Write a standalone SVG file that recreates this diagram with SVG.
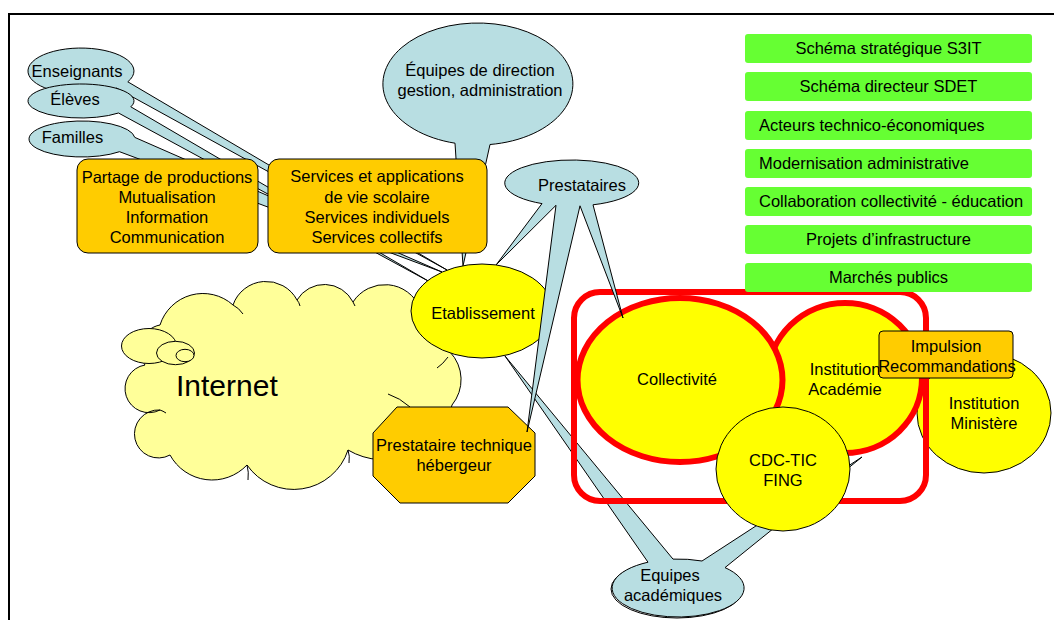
<svg xmlns="http://www.w3.org/2000/svg" width="1054" height="620" viewBox="0 0 1054 620">
<style>
text{font-family:"Liberation Sans",Arial,Helvetica,sans-serif;font-size:16.5px;fill:#000}
.m{text-anchor:middle}
.callout{fill:#B8DEE2;stroke:#000;stroke-width:1;stroke-linejoin:miter}
.yel{fill:#FFFF00;stroke:#000;stroke-width:1}
.org{fill:#FFCC00;stroke:#000;stroke-width:1}
.grn{fill:#66FF33}
.redl{fill:#FFFF00;stroke:#FF0000;stroke-width:6}
.cloud{fill:#FFFF99;stroke:#000;stroke-width:1}
.inner{fill:none;stroke:#000;stroke-width:1}
</style>
<rect width="1054" height="620" fill="#fff"/>
<g id="frame"><path d="M8 14 H1054 M9 14 V620" stroke="#000" stroke-width="2" fill="none"/></g>

<g id="internet">
<path class="cloud" d="M145 365 A25 25 0 0 1 160 325 A45 45 0 0 1 233 305 A35 35 0 0 1 297 300 A32 32 0 0 1 353 302 A38 38 0 0 1 420 308 A32 32 0 0 1 450 352 A40 40 0 0 1 452 405 A70 70 0 0 1 348 450 A57 57 0 0 1 247 465 A48 48 0 0 1 170 455 A24 24 0 1 1 160 410 A24 24 0 1 1 145 365 Z"/>
<path class="inner" d="M233 305 Q239 308 243 314 M297 300 Q299 302 300 306 M353 302 Q354 304 355 306 M448 357 Q443 364 437 368 M410 407 Q400 398 388 394 M348 450 Q350 456 349 463 M247 465 Q249 472 248 480 M160 410 Q163 411 166 413"/>
<ellipse class="cloud" cx="149" cy="346" rx="27.5" ry="17.5"/>
<ellipse class="cloud" cx="175.5" cy="353" rx="19" ry="11.7"/>
<ellipse class="cloud" cx="185" cy="355.5" rx="9" ry="6.2"/>
<text x="176" y="396" style="font-size:30px">Internet</text>
</g>

<g id="enseignants"><path class="callout" d="M127.8 81.8 A53 23 0 1 0 116.5 88.1 L447 270 Z"/><text class="m" x="77" y="76.5">Enseignants</text></g>
<g id="eleves"><path class="callout" d="M130.8 106.8 A53 17 0 1 0 118.5 113 L430 282 Z"/><text class="m" x="75" y="105">Élèves</text></g>
<g id="familles"><path class="callout" d="M134.8 137.4 A53 18 0 1 0 119.5 151.7 L442 272 Z"/><text class="m" x="72.5" y="142.5">Familles</text></g>

<g id="equipes-direction"><path class="callout" d="M463 266 L455 143.2 A95 61 0 1 1 490 144.5 Z"/><text class="m" x="480" y="76">Équipes de direction</text><text class="m" x="480" y="96">gestion, administration</text></g>

<g id="equipes-academiques">
<ellipse cx="677" cy="589" rx="66" ry="29" fill="none" stroke="#000"/>
<path class="callout" d="M648 562.2 L505 356 L673 559.1 A66 29 0 0 1 702 561 L862 457 L725 567.6 A66 29 0 1 1 648 562.2 Z"/>
<text class="m" x="670" y="581">Equipes</text><text class="m" x="673" y="601">académiques</text>
</g>

<g id="partage"><rect class="org" x="77" y="159" width="181" height="94" rx="11"/>
<text class="m" x="167" y="183">Partage de productions</text><text class="m" x="167" y="203">Mutualisation</text><text class="m" x="167" y="223">Information</text><text class="m" x="167" y="243">Communication</text></g>

<g id="services"><rect class="org" x="268" y="159" width="219" height="94" rx="11"/>
<text class="m" x="377" y="182">Services et applications</text><text class="m" x="377" y="203">de vie scolaire</text><text class="m" x="377" y="223">Services individuels</text><text class="m" x="377" y="243">Services collectifs</text></g>

<g id="etablissement"><ellipse class="yel" cx="482" cy="311" rx="71" ry="47"/><text class="m" x="483" y="318.5">Etablissement</text></g>

<g id="prestataire-technique"><polygon class="org" points="397,407 508,407 535,433 535,476 508,503 400,503 373,476 373,433"/>
<text class="m" x="454" y="451">Prestataire technique</text><text class="m" x="454" y="471">hébergeur</text></g>

<g id="ministere"><ellipse class="yel" cx="984" cy="413" rx="67" ry="60"/><text class="m" x="984" y="408.5">Institution</text><text class="m" x="984" y="428.5">Ministère</text></g>

<g id="academie"><ellipse class="redl" cx="845" cy="378" rx="77" ry="75"/><text class="m" x="845" y="374.5">Institution</text><text class="m" x="845" y="394.5">Académie</text></g>

<g id="collectivite"><ellipse class="redl" cx="680" cy="380" rx="102.5" ry="82"/><text class="m" x="677" y="384.5">Collectivité</text></g>

<g id="groupe-rouge"><rect x="574" y="292" width="352" height="209" rx="26" fill="none" stroke="#FF0000" stroke-width="6"/></g>

<g id="cdc-tic"><ellipse class="yel" cx="783" cy="469" rx="67" ry="62"/><text class="m" x="783" y="465.5">CDC-TIC</text><text class="m" x="783" y="485.5">FING</text></g>

<g id="prestataires"><path class="callout" d="M542 203.6 L496 265 L556 205.3 L527 432 L580 205.8 L623 318 L593 204.8 A67 23 0 1 0 542 203.6 Z"/><text class="m" x="582" y="190.5">Prestataires</text></g>

<g id="impulsion"><rect class="org" x="879" y="331" width="134" height="47" rx="4"/><text class="m" x="946" y="351.5">Impulsion</text><text class="m" x="947" y="371.5">Recommandations</text></g>

<g id="themes">
<rect class="grn" x="745" y="34" width="287" height="29" rx="3"/><text class="m" x="888.5" y="54">Schéma stratégique S3IT</text>
<rect class="grn" x="745" y="72" width="287" height="29" rx="3"/><text class="m" x="888.5" y="92">Schéma directeur SDET</text>
<rect class="grn" x="745" y="111" width="287" height="29" rx="3"/><text x="759" y="130.5">Acteurs technico-économiques</text>
<rect class="grn" x="745" y="149" width="287" height="29" rx="3"/><text x="759" y="168.5">Modernisation administrative</text>
<rect class="grn" x="745" y="187" width="287" height="29" rx="3"/><text x="759" y="206.5">Collaboration collectivité - éducation</text>
<rect class="grn" x="745" y="225" width="287" height="29" rx="3"/><text class="m" x="888.5" y="244.5">Projets d’infrastructure</text>
<rect class="grn" x="745" y="263" width="287" height="29" rx="3"/><text class="m" x="888.5" y="283">Marchés publics</text>
</g>
</svg>
